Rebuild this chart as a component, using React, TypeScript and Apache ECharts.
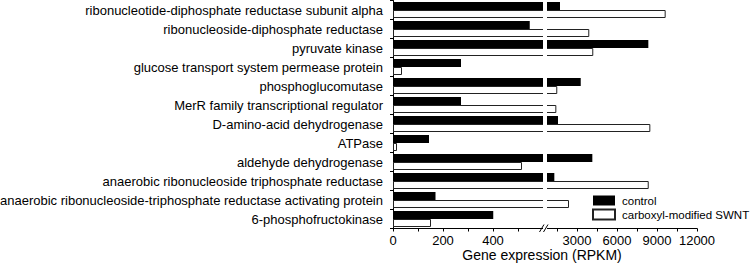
import React, { useEffect, useRef } from 'react';
import * as echarts from 'echarts';

const categories = [
  'ribonucleotide-diphosphate reductase subunit alpha',
  'ribonucleoside-diphosphate reductase',
  'pyruvate kinase',
  'glucose transport system permease protein',
  'phosphoglucomutase',
  'MerR family transcriptional regulator',
  'D-amino-acid dehydrogenase',
  'ATPase',
  'aldehyde dehydrogenase',
  'anaerobic ribonucleoside triphosphate reductase',
  'anaerobic ribonucleoside-triphosphate reductase activating protein',
  '6-phosphofructokinase',
];

const controlValues = [1725, 547, 8350, 272, 3280, 272, 1575, 144, 4150, 1300, 170, 401];
const swntValues = [9650, 3920, 4220, 36, 1520, 1450, 8500, 16, 516, 8380, 2400, 152];

const leftTicks = [0, 100, 200, 300, 400, 500];
const leftLabels = [0, 200, 400];
const rightTicks = [1500, 3000, 4500, 6000, 7500, 9000, 10500, 12000];
const rightLabels = [3000, 6000, 9000, 12000];

// axis ranges of the two segments of the broken axis
const LEFT_MIN = 0;
const LEFT_MAX = 608;
const RIGHT_MIN = 600;
const RIGHT_MAX = 12000;

const FONT = "'Liberation Sans', Arial, Helvetica, sans-serif";

export default function App() {
  const ref = useRef<HTMLDivElement>(null);

  useEffect(() => {
    if (!ref.current) return;
    const chart = echarts.init(ref.current, null, { renderer: 'svg' });

    const valueAxisCommon = (gridIndex: number, min: number, max: number, ticks: number[], labels: number[]) => ({
      type: 'value',
      gridIndex,
      min,
      max,
      axisLine: { show: true, onZero: false, lineStyle: { color: '#000', width: 1 } },
      axisTick: { show: true, length: 3, customValues: ticks, lineStyle: { color: '#000', width: 1 } },
      axisLabel: {
        show: true,
        customValues: labels,
        margin: 5,
        fontSize: 13,
        color: '#000',
        fontFamily: FONT,
        formatter: (v: number) => String(v),
      },
      splitLine: { show: false },
    });

    const barCommon = {
      type: 'bar',
      barWidth: 8,
      barGap: '0%',
      clip: true,
      silent: true,
      emphasis: { disabled: true },
    };

    chart.setOption({
      animation: false,
      backgroundColor: '#fff',
      grid: [
        { left: 393, top: 0.5, width: 152, height: 228, outerBoundsMode: 'none', containLabel: false },
        { left: 545, top: 0.5, width: 152, height: 228, outerBoundsMode: 'none', containLabel: false },
      ],
      xAxis: [
        valueAxisCommon(0, LEFT_MIN, LEFT_MAX, leftTicks, leftLabels),
        valueAxisCommon(1, RIGHT_MIN, RIGHT_MAX, rightTicks, rightLabels),
      ],
      yAxis: [
        {
          type: 'category',
          gridIndex: 0,
          data: categories,
          inverse: true,
          axisLine: { show: true, lineStyle: { color: '#000', width: 1 } },
          axisTick: { show: true, length: 3, lineStyle: { color: '#000', width: 1 } },
          axisLabel: { margin: 10, fontSize: 13, color: '#000', fontFamily: FONT, interval: 0 },
          splitLine: { show: false },
        },
        {
          type: 'category',
          gridIndex: 1,
          data: categories,
          inverse: true,
          show: false,
        },
      ],
      legend: {
        orient: 'vertical',
        left: 592,
        top: 194.5,
        padding: 0,
        itemWidth: 22,
        itemHeight: 10,
        itemGap: 2,
        icon: 'rect',
        selectedMode: false,
        data: ['control', 'carboxyl-modified SWNT'],
        textStyle: { fontSize: 11.5, color: '#000', fontFamily: FONT, padding: [0, 0, 0, 2] },
      },
      series: [
        {
          ...barCommon,
          name: 'control',
          xAxisIndex: 0,
          yAxisIndex: 0,
          data: controlValues,
          itemStyle: { color: '#000', borderColor: '#000', borderWidth: 0 },
        },
        {
          ...barCommon,
          name: 'carboxyl-modified SWNT',
          xAxisIndex: 0,
          yAxisIndex: 0,
          data: swntValues,
          itemStyle: { color: '#fff', borderColor: '#222', borderWidth: 1 },
        },
        {
          ...barCommon,
          name: 'control',
          xAxisIndex: 1,
          yAxisIndex: 1,
          data: controlValues.map((v) => (v > RIGHT_MIN ? v : '-')),
          itemStyle: { color: '#000', borderColor: '#000', borderWidth: 0 },
        },
        {
          ...barCommon,
          name: 'carboxyl-modified SWNT',
          xAxisIndex: 1,
          yAxisIndex: 1,
          data: swntValues.map((v) => (v > RIGHT_MIN ? v : '-')),
          itemStyle: { color: '#fff', borderColor: '#222', borderWidth: 1 },
        },
      ],
      graphic: [
        {
          type: 'rect',
          z: 100,
          shape: { x: 543, y: 0, width: 4, height: 231 },
          style: { fill: '#fff' },
        },
        {
          type: 'text',
          z: 100,
          x: 542,
          y: 255,
          style: {
            text: 'Gene expression (RPKM)',
            fontSize: 14,
            fontFamily: FONT,
            fill: '#000',
            align: 'center',
            verticalAlign: 'middle',
          },
        },
        {
          type: 'line',
          z: 101,
          shape: { x1: 539.5, y1: 232, x2: 544, y2: 224.5 },
          style: { stroke: '#000', lineWidth: 1 },
        },
        {
          type: 'line',
          z: 101,
          shape: { x1: 543.5, y1: 232, x2: 548, y2: 224.5 },
          style: { stroke: '#000', lineWidth: 1 },
        },
      ],
    });

    return () => {
      chart.dispose();
    };
  }, []);

  return (
    <div
      ref={ref}
      style={{ position: 'absolute', left: 0, top: 0, width: 750, height: 266 }}
    />
  );
}
